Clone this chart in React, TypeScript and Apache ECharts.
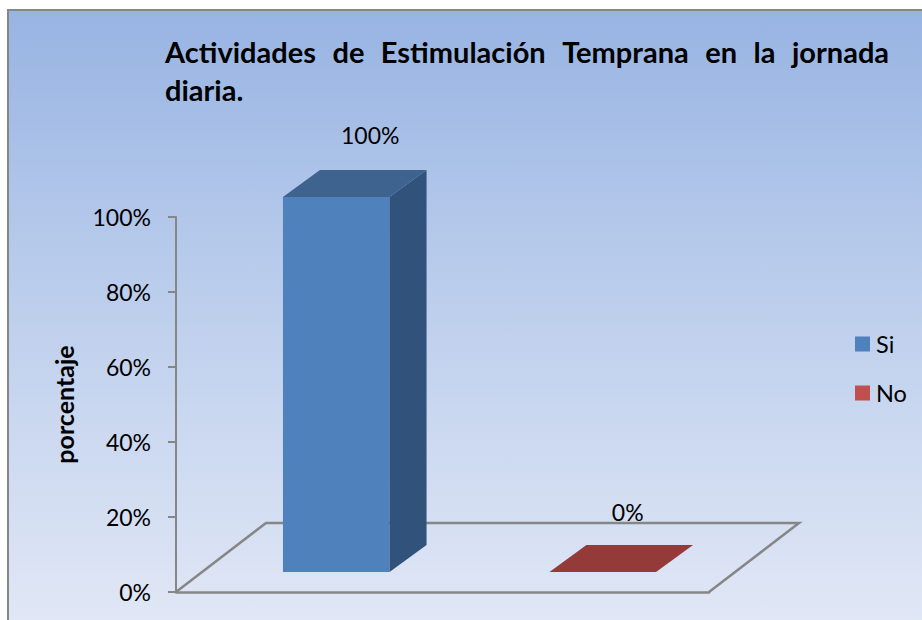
import React, { useEffect, useRef } from "react";
import * as echarts from "echarts";

const categories = ["Si", "No"];
const values = [100, 0];
const frontColors = ["#4F81BD", "#C0504D"];
const sideColors = ["#31527A", "#7A302E"];
const topColors = ["#3E638F", "#943B39"];
const yTicks = [0, 20, 40, 60, 80, 100];
const titleLine1 = ["Actividades", "de", "Estimulación", "Temprana", "en", "la", "jornada"];
const titleLine2 = "diaria.";
const yName = "porcentaje";

const FONT = "Lato";
const FLOOR_DX = 90;
const FLOOR_DY = -69;
const DEPTH_DX = 37;
const DEPTH_DY = -27;
const SHIFT_DX = 27;
const SHIFT_DY = -20;
const GRAY = "#868686";

const renderFloor = (params: any) => {
  const c = params.coordSys;
  const x0 = c.x, x1 = c.x + c.width, y0 = c.y + c.height;
  return {
    type: "polyline",
    silent: true,
    shape: {
      points: [
        [x0, y0],
        [x0 + FLOOR_DX, y0 + FLOOR_DY],
        [x1 + FLOOR_DX, y0 + FLOOR_DY],
        [x1, y0],
      ],
    },
    style: { stroke: GRAY, lineWidth: 2.5, fill: "none" },
  };
};

const renderBar = (i: number) => (_params: any, api: any) => {
  const v = api.value(1);
  const base = api.coord([api.value(0), 0]);
  const top = api.coord([api.value(0), v]);
  const w = api.size([1, 0])[0] * 0.4;
  const l = base[0] + SHIFT_DX - w / 2;
  const r = l + w;
  const yb = base[1] + SHIFT_DY;
  const yt = top[1] + SHIFT_DY;
  const children: any[] = [];
  if (v > 0) {
    children.push({ type: "rect", shape: { x: l, y: yt, width: w, height: yb - yt }, style: { fill: frontColors[i] } });
    children.push({
      type: "polygon",
      shape: { points: [[r, yt], [r + DEPTH_DX, yt + DEPTH_DY], [r + DEPTH_DX, yb + DEPTH_DY], [r, yb]] },
      style: { fill: sideColors[i] },
    });
  }
  children.push({
    type: "polygon",
    shape: { points: [[l, yt], [l + DEPTH_DX, yt + DEPTH_DY], [r + DEPTH_DX, yt + DEPTH_DY], [r, yt]] },
    style: { fill: topColors[i] },
  });
  children.push({
    type: "text",
    style: {
      text: `${v}%`,
      x: (l + r) / 2 + (v > 0 ? 34 : 25),
      y: yt + DEPTH_DY + (v > 0 ? -35 : -33),
      align: "center",
      verticalAlign: "middle",
      fontFamily: FONT,
      fontSize: 23,
      fill: "#000",
    },
  });
  return { type: "group", children };
};

const titleText =
  titleLine1.map((w) => `{w|${w}}`).join("{s| }") + `\n{w|${titleLine2}}`;

export default function App() {
  const ref = useRef<HTMLDivElement>(null);
  useEffect(() => {
    const chart = echarts.init(ref.current!, undefined, { renderer: "svg" });
    chart.setOption({
      animation: false,
      backgroundColor: "#fff",
      title: {
        text: titleText,
        left: 165,
        top: 32,
        padding: 0,
        textStyle: {
          rich: {
            w: { fontFamily: FONT, fontWeight: "bold", fontSize: 29, lineHeight: 38, color: "#000" },
            s: { fontFamily: FONT, fontWeight: "bold", fontSize: 29, lineHeight: 38, width: 16.5, color: "#000" },
          },
        },
      },
      graphic: [
        {
          type: "rect",
          z: -10,
          silent: true,
          shape: { x: 8, y: 10, width: 930, height: 625 },
          style: {
            stroke: GRAY,
            lineWidth: 2,
            fill: {
              type: "linear",
              x: 0, y: 0, x2: 0, y2: 1,
              colorStops: [
                { offset: 0, color: "#98B4E3" },
                { offset: 0.5, color: "#BFD0ED" },
                { offset: 1, color: "#E2E8F6" },
              ],
            },
          },
        },
      ],
      legend: {
        data: categories,
        left: 855,
        top: 332,
        orient: "vertical",
        padding: 0,
        icon: "rect",
        itemWidth: 15,
        itemHeight: 15,
        itemGap: 25,
        textStyle: { fontFamily: FONT, fontSize: 23.5, color: "#000", padding: [0, 0, 0, 1] },
      },
      grid: { left: 176, top: 217, width: 533, height: 375, containLabel: false },
      xAxis: {
        type: "category",
        data: categories,
        axisLine: { lineStyle: { color: GRAY, width: 2.5 } },
        axisTick: { show: false },
        axisLabel: { show: false },
        splitLine: { show: false },
      },
      yAxis: {
        type: "value",
        min: yTicks[0],
        max: yTicks[yTicks.length - 1],
        interval: 20,
        name: yName,
        nameLocation: "middle",
        nameGap: 100,
        nameTextStyle: { fontFamily: FONT, fontWeight: "bold", fontSize: 25, color: "#000" },
        axisLine: { show: true, lineStyle: { color: GRAY, width: 2 } },
        axisTick: { show: true, length: 8, lineStyle: { color: GRAY, width: 2 } },
        axisLabel: {
          formatter: "{value}%",
          margin: 25,
          fontFamily: FONT,
          fontSize: 23,
          color: "#000",
        },
        splitLine: { show: false },
      },
      series: [
        {
          name: "floor",
          type: "custom",
          silent: true,
          z: 1,
          data: [[0, 0]],
          encode: { x: 0, y: 1 },
          renderItem: renderFloor,
        },
        ...categories.map((name, i) => ({
          name,
          type: "custom",
          z: 2,
          silent: true,
          itemStyle: { color: frontColors[i] },
          data: [[i, values[i]]],
          encode: { x: 0, y: 1 },
          renderItem: renderBar(i),
        })),
      ],
    });
    return () => chart.dispose();
  }, []);
  return (
    <div
      ref={ref}
      style={{ position: "fixed", left: 0, top: 0, width: 922, height: 620 }}
    />
  );
}
